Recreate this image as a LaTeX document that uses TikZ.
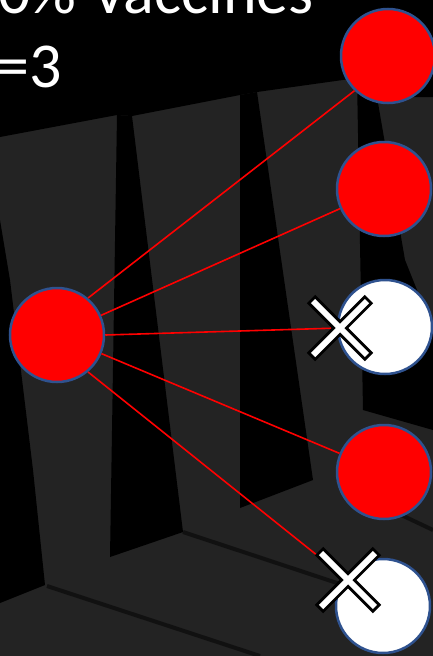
\documentclass[tikz,border=0pt]{standalone}
\usepackage{fontspec}
\setmainfont{Carlito}
\usetikzlibrary{positioning}
\definecolor{floorgray}{RGB}{35,35,35}
\definecolor{sickred}{RGB}{255,0,0}
\definecolor{rimblue}{RGB}{47,82,143}

\begin{document}
\begin{tikzpicture}[x=1pt,y=-1pt,
  infected/.style={circle,draw=rimblue,line width=2.5pt,fill=sickred,minimum size=94pt,inner sep=0pt},
  immune/.style={circle,draw=rimblue,line width=2.5pt,fill=white,minimum size=94pt,inner sep=0pt},
  link/.style={draw=sickred,line width=1.6pt},
  shade/.style={fill=black},
  crease/.style={draw=black,line width=4pt,opacity=0.5},
  title/.style={text=white,font=\fontsize{64}{76}\selectfont,inner sep=0pt},
  xrim/.style={line width=12pt,black},
  xfill/.style={line width=6pt,white},
]
\clip (0,0) rectangle (433,656);
% backdrop
\fill[floorgray] (0,0) rectangle (433,656);
\fill[shade] (0,0) -- (433,0) -- (433,97) -- (377,97) -- (357,78) -- (257,92) -- (240,95)
  -- (132,116) -- (117,115) -- (0,137) -- cycle;
\fill[shade] (117,115) -- (132,116) -- (183,532) -- (110,557) -- cycle;
\fill[shade] (240,95) -- (257,92) -- (313,480) -- (240,508) -- cycle;
\fill[shade] (357,78) -- (377,97) -- (405,260) -- (433,330) -- (433,430) -- (363,410) -- cycle;
\fill[shade] (0,220) -- (10,280) -- (33,470) -- (45,585) -- (0,603) -- cycle;
\draw[crease] (47,586) -- (260,656);
\draw[crease] (183,532) -- (340,584);
\draw[crease] (395,512) -- (433,530);
% labels
\node[title,anchor=base east] (pct) at (314,13) {0\% Vaccines};
\node[title,anchor=base west] (rnum) at (-3,87) {=3};
% people
\node[infected] (src) at (57,335) {};
\node[infected] (c1) at (388,56) {};
\node[infected] (c2) at (384,189) {};
\node[immune] (v1) at (385,327) {};
\node[infected] (c3) at (384,472) {};
\node[immune] (v2) at (383,606) {};
\coordinate (x1) at (340,328);
\coordinate (x2) at (348,580);
\draw[link] (src.50) -- (c1.226);
\draw[link] (src) -- (c2);
\draw[link] (src.east) -- (x1);
\draw[link] (src) -- (c3);
\draw[link] (src.-50) -- (x2);
% blocked
\foreach \p in {x1,x2} {
  \draw[xrim] ([shift={(-29,-29)}]\p) -- ([shift={(29,29)}]\p);
  \draw[xrim] ([shift={(-29,29)}]\p) -- ([shift={(29,-29)}]\p);
  \draw[xfill] ([shift={(-26.9,-26.9)}]\p) -- ([shift={(26.9,26.9)}]\p);
  \draw[xfill] ([shift={(-26.9,26.9)}]\p) -- ([shift={(26.9,-26.9)}]\p);
}
\end{tikzpicture}
\end{document}
